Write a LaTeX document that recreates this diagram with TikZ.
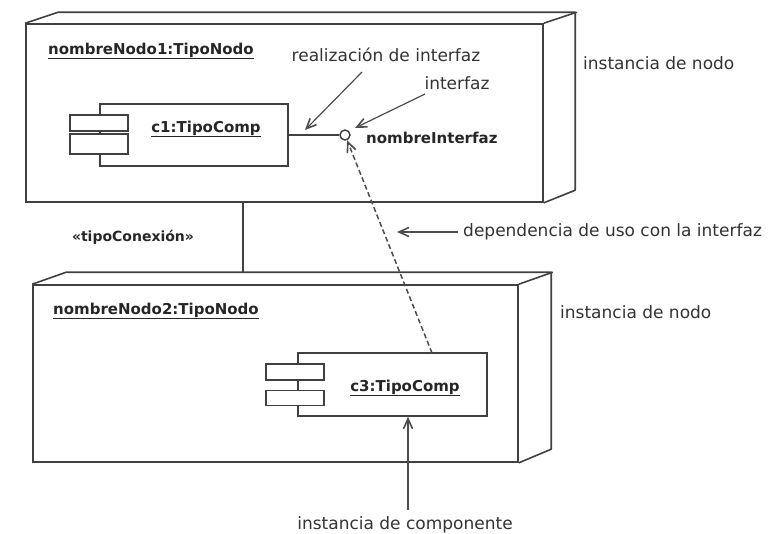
\documentclass[tikz,border=0pt]{standalone}
\usepackage{fontspec}
\setmainfont{DejaVu Sans}
\usetikzlibrary{arrows.meta}
\begin{document}
\begin{tikzpicture}[x=1pt,y=-1pt,
  ln/.style={draw=black!75, line width=1.6pt},
  nodebox/.style={ln, rectangle, inner sep=0pt},
  comp/.style={ln, rectangle, inner sep=0pt, fill=white},
  bl/.style={font=\fontsize{15}{17}\selectfont\bfseries, text=black!85, inner sep=0pt},
  ann/.style={font=\fontsize{17}{19}\selectfont, text=black!80, inner sep=0pt},
  arr/.style={draw=black!70, line width=1.2pt, -{Straight Barb[length=10pt,width=9pt,line width=1.6pt]}},
]
\useasboundingbox (0,0) rectangle (779,533);

% node instance 1
\node[nodebox, minimum width=517pt, minimum height=178pt] (n1) at (284.5,113) {};
\draw[ln, line join=round] (n1.north west) -- ++(33,-11) -- ++(517,0) -- ++(0,178) -- (n1.south east);
\draw[ln] (n1.north east) -- ++(33,-11);
\node[bl, anchor=west] (n1l) at (48,51) {\underline{nombreNodo1:TipoNodo}};

% node instance 2
\node[nodebox, minimum width=485pt, minimum height=177pt] (n2) at (275.5,373.5) {};
\draw[ln, line join=round] (n2.north west) -- ++(34,-12) -- ++(485,0) -- ++(0,177) -- (n2.south east);
\draw[ln] (n2.north east) -- ++(34,-12);
\node[bl, anchor=west] (n2l) at (53,311) {\underline{nombreNodo2:TipoNodo}};

% connection between nodes
\coordinate (cx) at (243,0);
\coordinate (n2back) at ([shift={(34,-12)}]n2.north west);
\draw[ln] (n1.south -| cx) -- (cx |- n2back);
\node[bl, font=\fontsize{14}{16}\selectfont\bfseries] (tc) at (133,237) {«tipoConexión»};

% component c1
\node[comp, minimum width=188pt, minimum height=62pt] (c1) at (194,135) {};
\node[comp, minimum width=58pt, minimum height=16pt] (c1a) at (99,123) {};
\node[comp, minimum width=58pt, minimum height=20pt] (c1b) at (99,144) {};
\node[bl] (c1t) at (206,129) {\underline{c1:TipoComp}};

% interface
\node[circle, draw=black!75, line width=1.4pt, minimum size=10pt, inner sep=0pt, fill=white] (ifc) at (345,135) {};
\draw[ln] (c1.east) -- (ifc.west);
\node[bl, anchor=west] (ifn) at (366,138) {nombreInterfaz};

% component c3
\node[comp, minimum width=189pt, minimum height=63pt] (c3) at (392.5,384.5) {};
\node[comp, minimum width=58pt, minimum height=16pt] (c3a) at (295,372) {};
\node[comp, minimum width=58pt, minimum height=15pt] (c3b) at (295,398) {};
\node[bl] (c3t) at (405,388) {\underline{c3:TipoComp}};

% dependency
\coordinate (d0) at (432,353);
\draw[arr, line width=1.5pt, dash pattern=on 5pt off 3pt] (d0) -- (ifc);

% annotations
\node[ann] (rl) at (386,55) {realización de interfaz};
\coordinate (r0) at (362,72);
\coordinate (r1) at (305,130);
\draw[arr] (r0) -- (r1);

\node[ann] (il) at (457,83) {interfaz};
\coordinate (i0) at (425,94);
\coordinate (i1) at (355,128);
\draw[arr] (i0) -- (i1);

\node[ann, anchor=west] (nl1) at (583,63) {instancia de nodo};
\node[ann, anchor=west] (nl2) at (560,312) {instancia de nodo};

\node[ann, anchor=west] (dl) at (463,232) {dependencia de uso con la interfaz};
\coordinate (e1) at (397,232);
\draw[arr] ([xshift=-5pt]dl.west) -- (e1);

\node[ann] (cl) at (405,525) {instancia de componente};
\coordinate (k0) at (408,510);
\draw[arr] (k0) -- (k0 |- c3.south);
\end{tikzpicture}
\end{document}
